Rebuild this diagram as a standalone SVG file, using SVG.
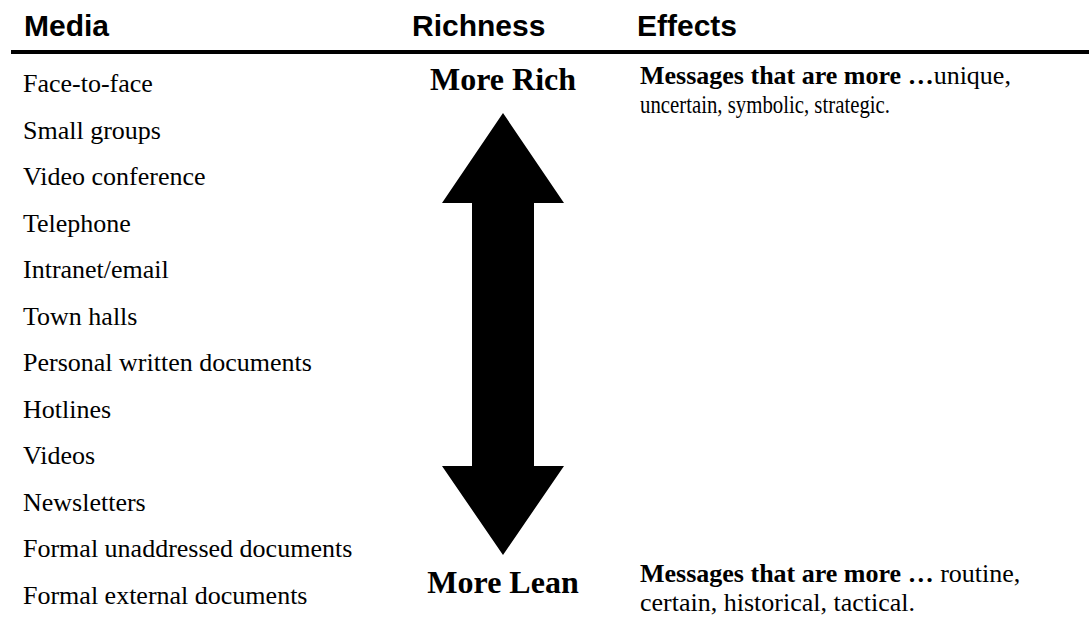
<svg xmlns="http://www.w3.org/2000/svg" width="1089" height="630" viewBox="0 0 1089 630">
<style>
.hdr{font-family:"Liberation Sans",Arial,sans-serif;font-weight:bold;font-size:30px;fill:#000}
.item{font-family:"Liberation Serif","Times New Roman",serif;font-size:26px;fill:#000}
.lbl{font-family:"Liberation Serif","Times New Roman",serif;font-weight:bold;font-size:32px;fill:#000}
.eff{font-family:"Liberation Serif","Times New Roman",serif;font-size:26px;fill:#000}
.b{font-weight:bold}
</style>
<rect width="1089" height="630" fill="#fff"/>
<g id="header">
<text class="hdr" x="24" y="36">Media</text>
<text class="hdr" x="412" y="36">Richness</text>
<text class="hdr" x="637" y="36">Effects</text>
<rect x="11" y="50" width="1078" height="4" fill="#000"/>
</g>
<g id="media-list">
<text class="item" x="23" y="92">Face-to-face</text>
<text class="item" x="23" y="138.5">Small groups</text>
<text class="item" x="23" y="185">Video conference</text>
<text class="item" x="23" y="231.5">Telephone</text>
<text class="item" x="23" y="278">Intranet/email</text>
<text class="item" x="23" y="324.5">Town halls</text>
<text class="item" x="23" y="371">Personal written documents</text>
<text class="item" x="23" y="417.5">Hotlines</text>
<text class="item" x="23" y="464">Videos</text>
<text class="item" x="23" y="510.5">Newsletters</text>
<text class="item" x="23" y="557">Formal unaddressed documents</text>
<text class="item" x="23" y="603.5">Formal external documents</text>
</g>
<g id="richness-arrow">
<polygon points="503,113 564,203 534,203 534,466 564,466 503,555 442,466 472,466 472,203 442,203" fill="#000"/>
</g>
<g id="more-rich"><text class="lbl" x="503" y="90" text-anchor="middle">More Rich</text></g>
<g id="more-lean"><text class="lbl" x="503" y="593" text-anchor="middle">More Lean</text></g>
<g id="effects-rich">
<text class="eff" x="640" y="84"><tspan class="b">Messages that are more …</tspan>unique,</text>
<text class="eff" x="640" y="113" textLength="250" lengthAdjust="spacingAndGlyphs">uncertain, symbolic, strategic.</text>
</g>
<g id="effects-lean">
<text class="eff" x="640" y="582"><tspan class="b">Messages that are more … </tspan>routine,</text>
<text class="eff" x="640" y="611">certain, historical, tactical.</text>
</g>
<g id="connectors"></g>
</svg>
